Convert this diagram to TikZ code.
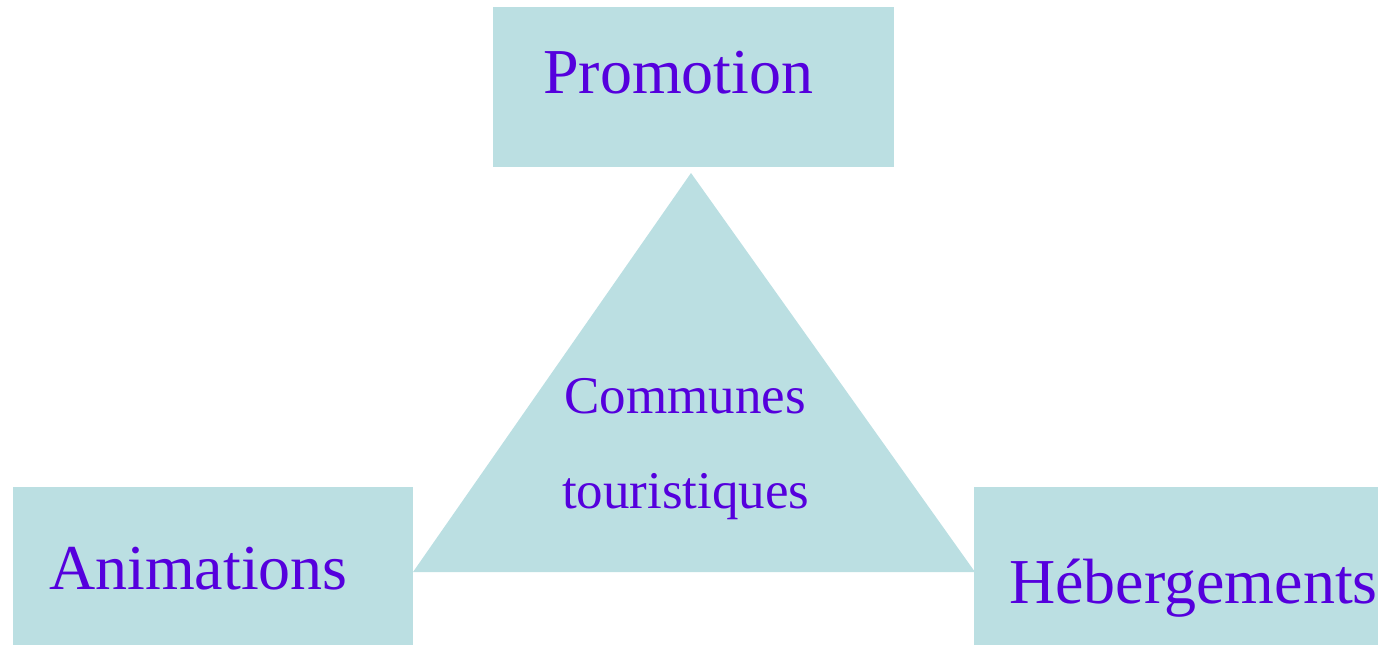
\documentclass[tikz,border=0pt]{standalone}
\usepackage{fontspec}
\setmainfont{Liberation Serif}
\definecolor{boxfill}{RGB}{187,223,226}
\definecolor{txt}{RGB}{85,0,221}
\begin{document}
\begin{tikzpicture}[x=1pt,y=-1pt,
  boxshape/.style={fill=boxfill,draw=none},
  bigtext/.style={text=txt,font=\fontsize{64}{70}\selectfont,inner sep=0pt,anchor=base west},
  midtext/.style={text=txt,font=\fontsize{53}{60}\selectfont,inner sep=0pt,anchor=base west}]
\useasboundingbox (0,0) rectangle (1378,645);
% boxes
\fill[boxshape] (493,7) rectangle (894,167);
\fill[boxshape] (13,487) rectangle (413,645);
\fill[boxshape] (974,487) rectangle (1378,645);
% triangle
\coordinate (apex) at (691,173);
\coordinate (bl) at (413,572);
\coordinate (br) at (975,572);
\fill[boxshape] (apex) -- (bl) -- (br) -- cycle;
% texts
\node[bigtext] (promo) at (543,93) {Promotion};
\node[bigtext] (anim) at (49,589) {Animations};
\node[bigtext] (heb) at (1009,603) {Hébergements};
\node[midtext] (comm) at (564,413) {Communes};
\node[midtext] (tour) at (562,508) {touristiques};
\end{tikzpicture}
\end{document}
